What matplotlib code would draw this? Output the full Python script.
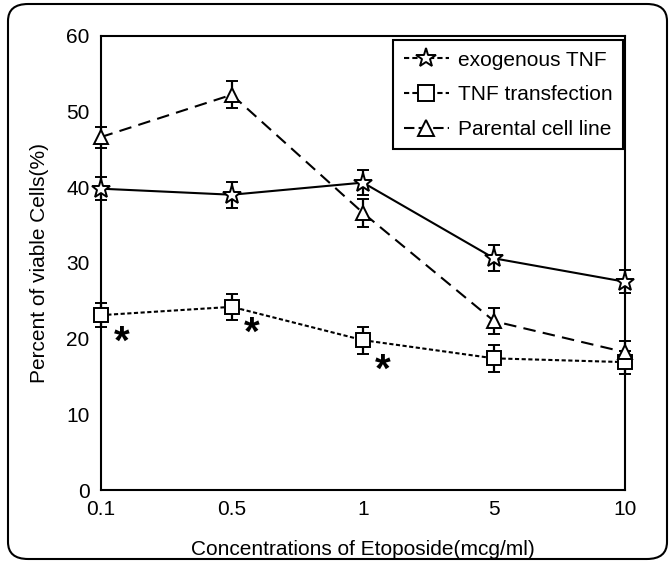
import numpy as np
import matplotlib
matplotlib.use('Agg')
import matplotlib.pyplot as plt
from matplotlib.lines import Line2D
from matplotlib.patches import FancyBboxPatch

plt.rcParams['font.family'] = ['Liberation Sans', 'DejaVu Sans']

conc = ['0.1', '0.5', '1', '5', '10']
exo_tnf = [39.8, 39.0, 40.6, 30.6, 27.5]
exo_err = [1.5, 1.7, 1.7, 1.7, 1.5]
tnf_trans = [23.1, 24.2, 19.8, 17.4, 16.9]
trans_err = [1.6, 1.7, 1.8, 1.8, 1.5]
parental = [46.6, 52.2, 36.6, 22.3, 18.2]
par_err = [1.4, 1.8, 1.8, 1.7, 1.5]

# significance stars (x in category units, y in %)
sig_x = [0.16, 1.15, 2.15]
sig_y = [19.4, 20.7, 15.7]

x = np.arange(len(conc))

fig = plt.figure(figsize=(6.71, 5.66), dpi=100)
ax = fig.add_axes([0.150, 0.134, 0.782, 0.803])

# rounded frame round the whole figure
frame = FancyBboxPatch((8 / 671, 7 / 566), 659 / 671, 555 / 566,
                       boxstyle='round,pad=0,rounding_size=0.03',
                       transform=fig.transFigure, fill=False,
                       edgecolor='black', linewidth=1.5)
fig.patches.append(frame)

ax.errorbar(x, exo_tnf, yerr=exo_err, color='black', linestyle='-', lw=1.5,
            marker='*', markersize=14, markerfacecolor='white',
            markeredgecolor='black', markeredgewidth=1.4,
            capsize=4.5, elinewidth=1.6, capthick=1.6, clip_on=False, zorder=3)
ax.errorbar(x, tnf_trans, yerr=trans_err, color='black', linestyle=(0, (2.0, 1.2)), lw=1.5,
            marker='s', markersize=9.5, markerfacecolor='white',
            markeredgecolor='black', markeredgewidth=1.4,
            capsize=4.5, elinewidth=1.6, capthick=1.6, clip_on=False, zorder=3)
ax.errorbar(x, parental, yerr=par_err, color='black', linestyle=(0, (6, 3.5)), lw=1.5,
            marker='^', markersize=10.5, markerfacecolor='white',
            markeredgecolor='black', markeredgewidth=1.4,
            capsize=4.5, elinewidth=1.6, capthick=1.6, clip_on=False, zorder=3)

for sx, sy in zip(sig_x, sig_y):
    ax.text(sx, sy, '*', fontsize=29, fontweight='bold', ha='center', va='center')

ax.set_xlim(0, 4)
ax.set_ylim(0, 60)
ax.set_xticks(x)
ax.set_xticklabels(conc)
ax.set_yticks(np.arange(0, 61, 10))
ax.tick_params(length=0, labelsize=15)
ax.tick_params(axis='y', pad=8)
ax.tick_params(axis='x', pad=7)
for s in ax.spines.values():
    s.set_linewidth(1.5)

ax.set_xlabel('Concentrations of Etoposide(mcg/ml)', fontsize=15, labelpad=15)
ax.set_ylabel('Percent of viable Cells(%)', fontsize=15, labelpad=12)

handles = [
    Line2D([], [], color='black', linestyle=(0, (2.5, 1.5)), lw=1.5, marker='*',
           markersize=15, markerfacecolor='white', markeredgewidth=1.4),
    Line2D([], [], color='black', linestyle=(0, (2.5, 1.5)), lw=1.5, marker='s',
           markersize=11, markerfacecolor='white', markeredgewidth=1.4),
    Line2D([], [], color='black', linestyle=(0, (5, 2)), lw=1.5, marker='^',
           markersize=12, markerfacecolor='white', markeredgewidth=1.4),
]
leg = ax.legend(handles, ['exogenous TNF', 'TNF transfection', 'Parental cell line'],
                loc='upper right', bbox_to_anchor=(0.995, 0.99), fontsize=15,
                fancybox=False, framealpha=1, edgecolor='black',
                handlelength=2.2, handletextpad=0.4, borderpad=0.5,
                labelspacing=0.75, borderaxespad=0)
leg.get_frame().set_linewidth(1.5)

fig.savefig('out.png', dpi=100)
